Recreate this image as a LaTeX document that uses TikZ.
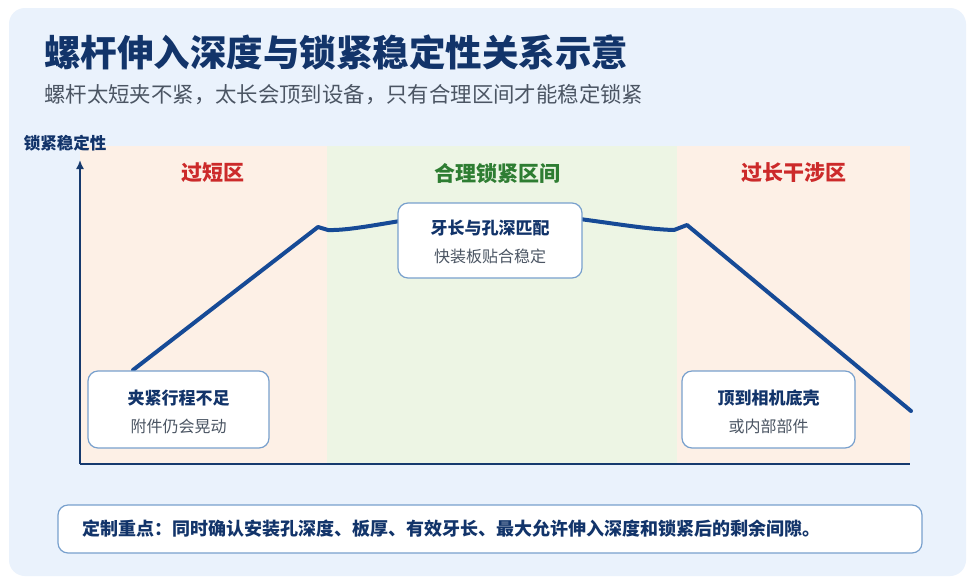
\documentclass[tikz,border=0pt]{standalone}
\usepackage{fontspec}
\setmainfont{Noto Sans CJK SC}
\usetikzlibrary{arrows.meta}
\definecolor{panelbg}{HTML}{EAF2FC}
\definecolor{shortbg}{HTML}{FDF0E6}
\definecolor{okbg}{HTML}{EDF5E4}
\definecolor{titlecol}{HTML}{12346A}
\definecolor{subgray}{HTML}{4B5563}
\definecolor{curveblue}{HTML}{164A96}
\definecolor{boxborder}{HTML}{78A0CD}
\definecolor{zonered}{HTML}{CC2A2A}
\definecolor{zonegreen}{HTML}{2E7D32}
\definecolor{axiscol}{HTML}{163A6E}
\tikzset{
  callout/.style={draw=boxborder, line width=1.2pt, fill=white, rounded corners=10pt, inner sep=0pt},
  headtxt/.style={font=\bfseries\fontsize{17}{17}\selectfont, text=titlecol, inner sep=0pt},
  subtxt/.style={font=\fontsize{16}{16}\selectfont, text=subgray, inner sep=0pt},
  zonelabel/.style={font=\bfseries\fontsize{21}{21}\selectfont, inner sep=0pt},
  axisline/.style={draw=axiscol, line width=1.6pt},
  curveline/.style={draw=curveblue, line width=4pt, line join=round, line cap=round}
}
\begin{document}
\begin{tikzpicture}[x=1pt,y=-1pt]
\useasboundingbox (0,0) rectangle (974,584);
\fill[white] (0,0) rectangle (974,584);
\fill[panelbg, rounded corners=16pt] (9,8) rectangle (966,576);

% title and subtitle
\node[anchor=west, inner sep=0pt, font=\bfseries\fontsize{36.5}{36.5}\selectfont, text=titlecol] (title) at (44,52) {螺杆伸入深度与锁紧稳定性关系示意};
\node[anchor=west, inner sep=0pt, font=\fontsize{21.4}{21.4}\selectfont, text=subgray] (subtitle) at (44,95) {螺杆太短夹不紧，太长会顶到设备，只有合理区间才能稳定锁紧};

% zones
\fill[shortbg] (80,146) rectangle (327,464);
\fill[okbg] (327,146) rectangle (677,464);
\fill[shortbg] (677,146) rectangle (910,464);

\node[zonelabel, text=zonered] (z1) at (213,173) {过短区};
\node[zonelabel, text=zonegreen] (z2) at (497,173) {合理锁紧区间};
\node[zonelabel, text=zonered] (z3) at (794,173) {过长干涉区};

% axes
\coordinate (origin) at (80,464);
\coordinate (xend) at (910,464);
\coordinate (ytop) at (80,160);
\draw[axisline] (origin) -- (xend);
\draw[axisline, -{Latex[length=9pt,width=8pt]}] (origin) -- (ytop);
\node[inner sep=0pt, font=\bfseries\fontsize{16.5}{16.5}\selectfont, text=titlecol] (ylab) at (65,143) {锁紧稳定性};

% curve
\coordinate (p0) at (133,370);
\coordinate (p1) at (318,227);
\coordinate (p2) at (328,230);
\coordinate (p3) at (490,212);
\coordinate (p4) at (674,230);
\coordinate (p5) at (687,225);
\coordinate (p6) at (911,411);
\draw[curveline] (p0) -- (p1) -- (p2) .. controls (362,231) and (420,213) .. (p3)
  .. controls (560,212) and (630,229) .. (p4) -- (p5) -- (p6);

% callouts
\node[callout, minimum width=184pt, minimum height=75pt] (b1) at (490,240.5) {};
\node[headtxt] (b1a) at (490,228) {牙长与孔深匹配};
\node[subtxt] (b1b) at (490,256) {快装板贴合稳定};

\node[callout, minimum width=181pt, minimum height=77pt] (b2) at (178.5,409.5) {};
\node[headtxt] (b2a) at (178.5,398) {夹紧行程不足};
\node[subtxt] (b2b) at (178.5,426) {附件仍会晃动};

\node[callout, minimum width=173pt, minimum height=77pt] (b3) at (768.5,409.5) {};
\node[headtxt] (b3a) at (768.5,398) {顶到相机底壳};
\node[subtxt] (b3b) at (768.5,426) {或内部部件};

% bottom note
\node[callout, minimum width=864pt, minimum height=48pt] (note) at (490,529) {};
\node[anchor=west, inner sep=0pt, font=\bfseries\fontsize{18}{18}\selectfont, text=titlecol] (notetxt) at (82,529) {定制重点：同时确认安装孔深度、板厚、有效牙长、最大允许伸入深度和锁紧后的剩余间隙。};
\end{tikzpicture}
\end{document}
